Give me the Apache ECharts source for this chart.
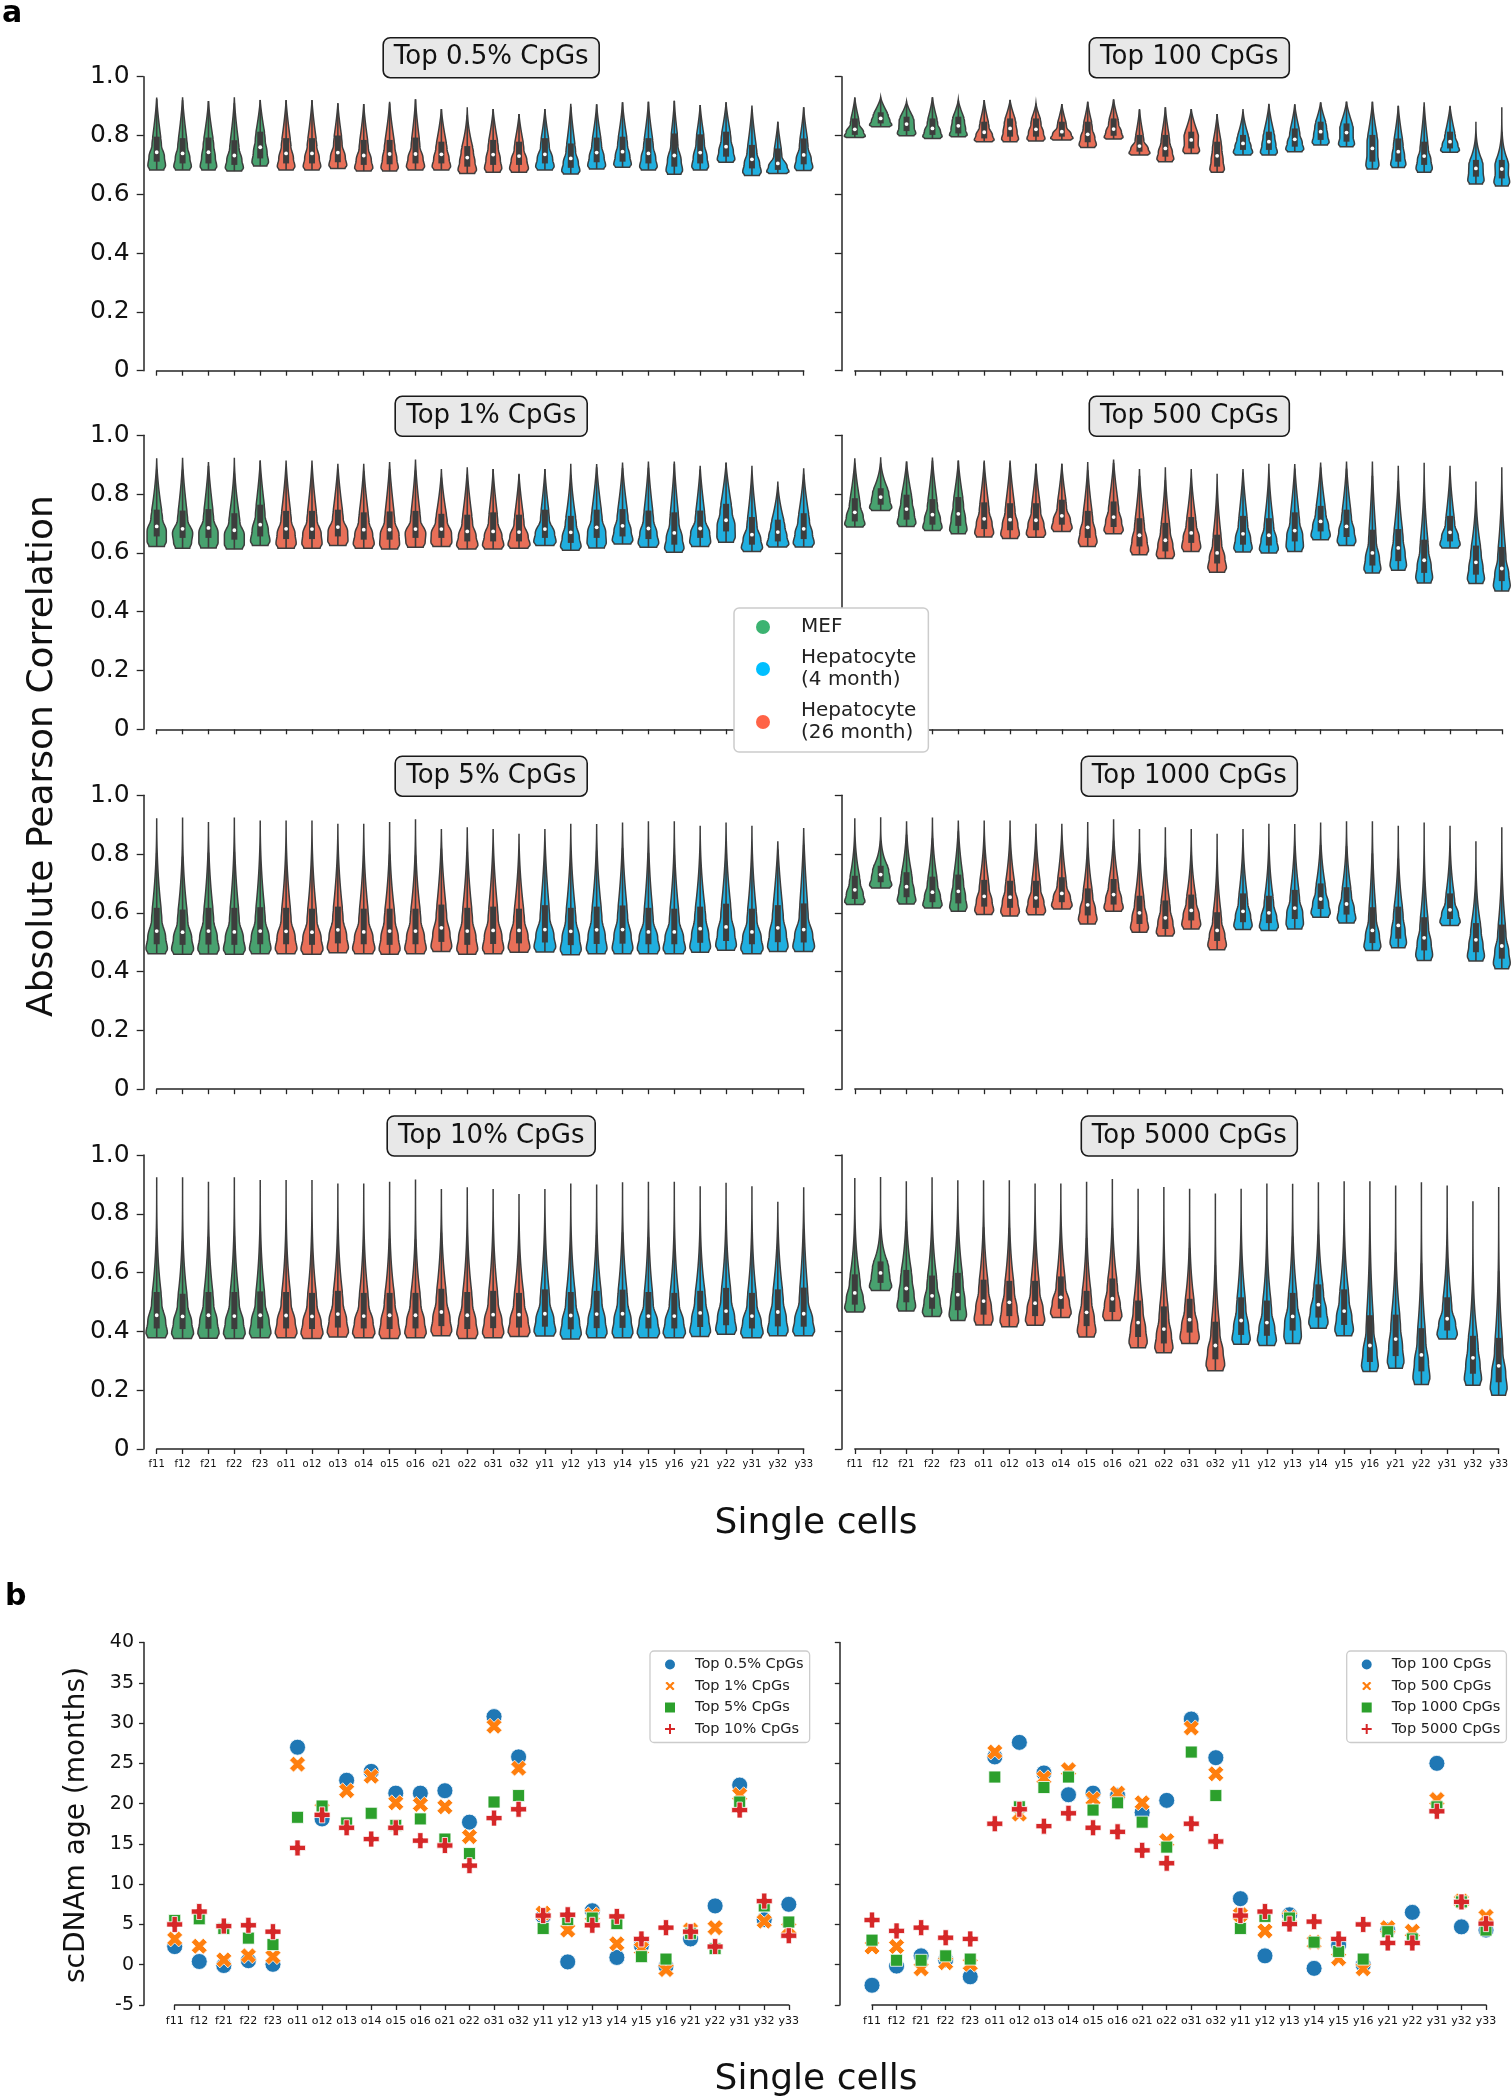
<!DOCTYPE html>
<html><head><meta charset="utf-8">
<script src="https://cdn.jsdelivr.net/npm/echarts@6/dist/echarts.min.js"></script>
<style>html,body{margin:0;padding:0;background:#fff;}#c{width:1511px;height:2099px;}</style>
</head><body><div id="c"></div>
<script>
// ---------------- DATA ----------------
const cells = ['f11','f12','f21','f22','f23','o11','o12','o13','o14','o15','o16','o21','o22','o31','o32','y11','y12','y13','y14','y15','y16','y21','y22','y31','y32','y33'];
const groupNames = ['MEF','Hepatocyte (4 month)','Hepatocyte (26 month)'];
const yTicksA = [0, 0.2, 0.4, 0.6, 0.8, 1.0];
const yTicksB = [-5, 0, 5, 10, 15, 20, 25, 30, 35, 40];

// violin summaries per cell: [min, q1, median, q3, max]
const top0_5pct = [
[0.683,0.711,0.743,0.796,0.929],[0.683,0.705,0.739,0.791,0.930],[0.683,0.705,0.743,0.793,0.917],[0.679,0.700,0.732,0.784,0.930],[0.696,0.722,0.760,0.813,0.921],
[0.683,0.705,0.739,0.791,0.921],[0.683,0.705,0.739,0.791,0.921],[0.688,0.709,0.742,0.800,0.910],[0.679,0.700,0.732,0.785,0.907],[0.679,0.702,0.737,0.785,0.915],
[0.683,0.705,0.737,0.793,0.923],[0.683,0.705,0.736,0.779,0.890],[0.671,0.694,0.725,0.764,0.896],[0.675,0.700,0.735,0.785,0.890],[0.675,0.700,0.730,0.779,0.873],
[0.683,0.705,0.736,0.791,0.890],[0.669,0.690,0.722,0.773,0.908],[0.686,0.709,0.742,0.793,0.906],[0.692,0.711,0.745,0.796,0.913],[0.683,0.705,0.739,0.791,0.915],
[0.668,0.694,0.732,0.807,0.918],[0.683,0.705,0.742,0.804,0.904],[0.709,0.728,0.762,0.813,0.913],[0.664,0.688,0.719,0.768,0.902],[0.671,0.683,0.705,0.756,0.847],
[0.681,0.702,0.734,0.790,0.896]];
const top1pct = [
[0.622,0.656,0.690,0.747,0.922],[0.616,0.651,0.682,0.744,0.924],[0.617,0.651,0.685,0.749,0.909],[0.613,0.645,0.677,0.735,0.924],[0.625,0.656,0.696,0.764,0.914],
[0.616,0.647,0.682,0.743,0.914],[0.616,0.647,0.681,0.743,0.914],[0.625,0.656,0.688,0.747,0.903],[0.616,0.645,0.679,0.738,0.903],[0.613,0.645,0.679,0.741,0.909],
[0.619,0.651,0.681,0.743,0.918],[0.622,0.651,0.681,0.733,0.885],[0.613,0.639,0.673,0.730,0.891],[0.613,0.639,0.673,0.738,0.885],[0.616,0.639,0.671,0.730,0.869],
[0.625,0.651,0.681,0.747,0.885],[0.609,0.634,0.670,0.726,0.903],[0.617,0.651,0.687,0.747,0.902],[0.630,0.656,0.692,0.749,0.907],[0.619,0.647,0.683,0.744,0.911],
[0.602,0.628,0.668,0.738,0.911],[0.622,0.651,0.683,0.744,0.896],[0.636,0.673,0.711,0.767,0.907],[0.605,0.628,0.662,0.722,0.896],[0.620,0.639,0.671,0.713,0.843],
[0.620,0.647,0.682,0.735,0.888]];
const top5pct = [
[0.461,0.493,0.538,0.617,0.922],[0.459,0.491,0.534,0.611,0.924],[0.460,0.492,0.538,0.617,0.909],[0.459,0.491,0.535,0.617,0.924],[0.461,0.493,0.538,0.619,0.914],
[0.461,0.493,0.537,0.617,0.914],[0.459,0.491,0.534,0.614,0.914],[0.464,0.496,0.542,0.621,0.903],[0.461,0.493,0.535,0.614,0.903],[0.459,0.491,0.538,0.614,0.909],
[0.461,0.493,0.538,0.614,0.918],[0.468,0.501,0.549,0.628,0.885],[0.459,0.491,0.538,0.617,0.891],[0.461,0.494,0.540,0.621,0.885],[0.466,0.496,0.540,0.614,0.869],
[0.467,0.499,0.543,0.626,0.885],[0.457,0.490,0.537,0.617,0.903],[0.461,0.494,0.542,0.621,0.902],[0.461,0.495,0.543,0.625,0.907],[0.461,0.493,0.535,0.617,0.911],
[0.461,0.493,0.535,0.614,0.911],[0.466,0.498,0.546,0.621,0.896],[0.473,0.504,0.552,0.631,0.907],[0.461,0.493,0.535,0.614,0.896],[0.468,0.500,0.549,0.626,0.843],
[0.468,0.499,0.543,0.632,0.888]];
const top10pct = [
[0.378,0.410,0.455,0.534,0.924],[0.376,0.408,0.451,0.528,0.924],[0.377,0.409,0.455,0.534,0.909],[0.376,0.408,0.452,0.534,0.924],[0.378,0.410,0.455,0.536,0.915],
[0.378,0.410,0.454,0.534,0.915],[0.376,0.408,0.451,0.531,0.915],[0.381,0.413,0.459,0.538,0.903],[0.378,0.410,0.452,0.531,0.903],[0.376,0.408,0.455,0.531,0.909],
[0.378,0.410,0.455,0.531,0.917],[0.385,0.418,0.466,0.545,0.884],[0.376,0.408,0.455,0.534,0.890],[0.378,0.411,0.457,0.538,0.884],[0.383,0.413,0.457,0.531,0.867],
[0.384,0.416,0.460,0.543,0.884],[0.374,0.407,0.454,0.534,0.903],[0.378,0.411,0.459,0.538,0.900],[0.378,0.412,0.460,0.542,0.907],[0.378,0.410,0.452,0.534,0.909],
[0.378,0.410,0.452,0.531,0.909],[0.383,0.415,0.463,0.538,0.894],[0.390,0.421,0.469,0.548,0.906],[0.378,0.410,0.452,0.531,0.894],[0.385,0.417,0.466,0.543,0.841],
[0.385,0.416,0.460,0.549,0.890]];
const top100 = [
[0.793,0.802,0.821,0.858,0.929],[0.830,0.841,0.858,0.879,0.930],[0.799,0.815,0.839,0.864,0.915],[0.790,0.802,0.824,0.858,0.930],[0.796,0.807,0.833,0.864,0.921],
[0.779,0.790,0.811,0.847,0.921],[0.779,0.796,0.824,0.858,0.921],[0.781,0.796,0.821,0.858,0.909],[0.785,0.796,0.813,0.847,0.907],[0.759,0.777,0.804,0.847,0.915],
[0.788,0.799,0.822,0.858,0.923],[0.734,0.745,0.764,0.802,0.890],[0.711,0.728,0.756,0.802,0.896],[0.739,0.756,0.785,0.813,0.890],[0.675,0.694,0.731,0.779,0.873],
[0.734,0.751,0.773,0.802,0.890],[0.734,0.751,0.779,0.813,0.908],[0.745,0.762,0.787,0.824,0.906],[0.768,0.785,0.813,0.847,0.913],[0.762,0.779,0.810,0.841,0.915],
[0.686,0.711,0.756,0.802,0.915],[0.691,0.711,0.745,0.790,0.901],[0.675,0.700,0.730,0.779,0.913],[0.743,0.756,0.779,0.813,0.901],[0.635,0.660,0.688,0.717,0.847],
[0.628,0.654,0.686,0.717,0.896]];
const top500 = [
[0.688,0.707,0.738,0.786,0.922],[0.744,0.764,0.790,0.820,0.925],[0.690,0.713,0.749,0.798,0.911],[0.676,0.696,0.730,0.783,0.924],[0.665,0.692,0.733,0.790,0.914],
[0.654,0.681,0.716,0.772,0.914],[0.649,0.677,0.713,0.769,0.914],[0.653,0.677,0.711,0.769,0.903],[0.673,0.696,0.726,0.781,0.903],[0.622,0.651,0.687,0.743,0.909],
[0.665,0.688,0.722,0.775,0.918],[0.594,0.622,0.660,0.718,0.885],[0.581,0.605,0.643,0.702,0.891],[0.605,0.634,0.668,0.722,0.885],[0.534,0.564,0.600,0.662,0.869],
[0.603,0.628,0.665,0.726,0.885],[0.600,0.625,0.660,0.718,0.903],[0.605,0.639,0.676,0.738,0.902],[0.645,0.673,0.707,0.760,0.907],[0.625,0.654,0.690,0.747,0.911],
[0.532,0.557,0.600,0.679,0.911],[0.541,0.572,0.617,0.681,0.896],[0.498,0.532,0.575,0.645,0.907],[0.617,0.639,0.670,0.726,0.896],[0.496,0.526,0.568,0.625,0.843],
[0.470,0.504,0.547,0.620,0.891]];
const top1000 = [
[0.628,0.647,0.678,0.726,0.922],[0.684,0.704,0.730,0.760,0.925],[0.630,0.653,0.689,0.738,0.911],[0.616,0.636,0.670,0.723,0.924],[0.605,0.632,0.673,0.730,0.914],
[0.594,0.621,0.656,0.712,0.914],[0.589,0.617,0.653,0.709,0.914],[0.593,0.617,0.651,0.709,0.903],[0.613,0.636,0.666,0.721,0.903],[0.562,0.591,0.627,0.683,0.909],
[0.605,0.628,0.662,0.715,0.918],[0.534,0.562,0.600,0.658,0.885],[0.521,0.545,0.583,0.642,0.891],[0.545,0.574,0.608,0.662,0.885],[0.474,0.504,0.540,0.602,0.869],
[0.543,0.568,0.605,0.666,0.885],[0.540,0.565,0.600,0.658,0.903],[0.545,0.579,0.616,0.678,0.902],[0.585,0.613,0.647,0.700,0.907],[0.565,0.594,0.630,0.687,0.911],
[0.472,0.497,0.540,0.619,0.911],[0.481,0.512,0.557,0.621,0.896],[0.438,0.472,0.515,0.585,0.907],[0.557,0.579,0.610,0.666,0.896],[0.436,0.466,0.508,0.565,0.843],
[0.410,0.444,0.487,0.560,0.891]];
const top5000 = [
[0.466,0.491,0.531,0.594,0.922],[0.539,0.565,0.599,0.638,0.925],[0.469,0.499,0.546,0.609,0.911],[0.451,0.477,0.521,0.590,0.924],[0.437,0.472,0.525,0.599,0.914],
[0.422,0.457,0.503,0.576,0.914],[0.416,0.452,0.499,0.572,0.914],[0.421,0.452,0.496,0.572,0.903],[0.447,0.477,0.516,0.587,0.903],[0.381,0.418,0.465,0.538,0.909],
[0.437,0.466,0.511,0.580,0.918],[0.344,0.381,0.430,0.505,0.885],[0.327,0.359,0.408,0.485,0.891],[0.359,0.396,0.440,0.511,0.885],[0.266,0.305,0.352,0.433,0.869],
[0.356,0.388,0.437,0.516,0.885],[0.352,0.385,0.430,0.505,0.903],[0.359,0.403,0.451,0.531,0.902],[0.411,0.447,0.491,0.560,0.907],[0.385,0.422,0.469,0.543,0.911],
[0.264,0.296,0.352,0.455,0.911],[0.275,0.316,0.374,0.457,0.896],[0.219,0.264,0.320,0.411,0.907],[0.374,0.403,0.443,0.516,0.896],[0.217,0.256,0.310,0.385,0.843],
[0.183,0.227,0.283,0.378,0.891]];

// scDNAm age (months) per cell
const age_top0_5pct = [2.25,0.4,-0.1,0.5,0.05,27.0,18.1,22.9,24.0,21.3,21.3,21.6,17.7,30.8,25.8,6.0,0.35,6.7,0.9,2.4,-0.2,3.2,7.3,22.3,5.6,7.5];
const age_top1pct   = [3.2,2.3,0.6,1.1,1.0,24.9,19.3,21.6,23.4,20.1,19.9,19.6,15.9,29.6,24.4,6.4,4.3,6.2,2.6,2.0,-0.6,4.3,4.6,21.1,5.4,4.5];
const age_top5pct   = [5.5,5.7,4.5,3.3,2.5,18.3,19.7,17.6,18.8,17.3,18.1,15.6,13.8,20.2,21.0,4.5,5.6,5.8,5.1,1.0,0.7,3.9,2.0,20.2,7.3,5.3];
const age_top10pct  = [5.0,6.6,4.8,4.9,4.1,14.5,18.6,17.0,15.6,17.0,15.4,14.8,12.3,18.2,19.3,6.1,6.2,4.9,6.0,3.2,4.6,4.1,2.25,19.2,7.9,3.6];
const age_top100    = [-2.55,-0.17,1.1,0.6,-1.5,25.8,27.6,23.8,21.1,21.3,21.0,18.9,20.4,30.5,25.7,8.2,1.1,6.2,-0.45,2.45,0.0,4.3,6.5,25.0,4.7,4.3];
const age_top500    = [2.2,2.25,-0.5,0.25,0.05,26.4,18.7,23.2,24.2,20.6,21.3,20.1,15.4,29.4,23.7,6.2,4.2,5.9,2.8,0.75,-0.5,4.6,4.15,20.5,7.9,6.0];
const age_top1000   = [3.05,0.55,0.55,1.1,0.7,23.3,19.6,22.0,23.3,19.2,20.1,17.7,14.6,26.4,21.0,4.5,6.0,5.8,2.8,1.65,0.7,4.1,3.2,19.6,7.8,4.3];
const age_top5000   = [5.55,4.2,4.6,3.35,3.2,17.5,19.3,17.2,18.8,17.0,16.5,14.2,12.6,17.5,15.3,6.1,6.6,5.05,5.35,3.2,5.0,2.7,2.7,19.05,7.8,5.1];

// ---------------- STYLE / LAYOUT ----------------
const FONT = 'DejaVu Sans';
const INK = '#262626';
const violinFill = {'MEF':'#48a26f','Hepatocyte (4 month)':'#20afdf','Hepatocyte (26 month)':'#e86f58'};
const legendFill = {'MEF':'#3cb371','Hepatocyte (4 month)':'#00bfff','Hepatocyte (26 month)':'#ff6347'};
function groupOf(c){ return c[0]==='f' ? 'MEF' : (c[0]==='o' ? 'Hepatocyte (26 month)' : 'Hepatocyte (4 month)'); }

const panelsA = [
  {title:'Top 0.5% CpGs', stats:top0_5pct, row:0, col:0},
  {title:'Top 100 CpGs',  stats:top100,    row:0, col:1},
  {title:'Top 1% CpGs',   stats:top1pct,   row:1, col:0},
  {title:'Top 500 CpGs',  stats:top500,    row:1, col:1},
  {title:'Top 5% CpGs',   stats:top5pct,   row:2, col:0},
  {title:'Top 1000 CpGs', stats:top1000,   row:2, col:1},
  {title:'Top 10% CpGs',  stats:top10pct,  row:3, col:0},
  {title:'Top 5000 CpGs', stats:top5000,   row:3, col:1}
];
const rowTop = [76.7, 435.3, 795.2, 1155];
const rowH = 294;
const colLeft = [156.7, 854.8];
const colW = 647;

// density outline from the quartile summary
function violinProfile(s){
  const mn=s[0], q1=s[1], md=s[2], q3=s[3], mx=s[4], e=1e-4;
  const dB = 0.25/Math.max(md-q1,e), dC = 0.25/Math.max(q3-md,e);
  const dA = Math.min(0.25/Math.max(q1-mn,e), 1.2*dB);
  const nodes = [[mn,0.8*dA],[(mn+q1)/2,dA],[(q1+md)/2,dB],[(md+q3)/2,dC],[q3,0.85*dC]];
  const L = Math.max(mx-q3,e), dq = 0.85*dC;
  const p = Math.max(dq*L/0.25-1, 1.3);
  const out=[], N=70;
  for(let i=0;i<=N;i++){
    const v = mn+(mx-mn)*i/N; let d;
    if(v>=q3){ d = dq*Math.pow(Math.max(0,1-(v-q3)/L),p); }
    else{
      let k=0; while(k<nodes.length-2 && v>nodes[k+1][0]) k++;
      const a=nodes[k], b=nodes[k+1];
      const t = (b[0]-a[0])>e ? Math.min(1,Math.max(0,(v-a[0])/(b[0]-a[0]))) : 0;
      const ts = (1-Math.cos(Math.PI*t))/2;
      d = a[1]+(b[1]-a[1])*ts;
    }
    out.push([v,d]);
  }
  return out;
}
function profileMax(s){ return Math.max.apply(null, violinProfile(s).map(p=>p[1])); }

function makeRender(color, pmax){
  return function(params, api){
    const ci = api.value(0);
    const st = [api.value(1),api.value(2),api.value(3),api.value(4),api.value(5)];
    const band = api.size([1,0])[0];
    const prof = violinProfile(st);
    const vmax = Math.max.apply(null, prof.map(p=>p[1]));
    const halfMax = 0.43*band*Math.pow(vmax/pmax, 0.55);
    const k = halfMax/vmax;
    const L=[], R=[];
    const x0 = api.coord([ci, st[0]])[0];
    prof.forEach(function(pv){
      const c = api.coord([ci, pv[0]]);
      L.push([c[0]-pv[1]*k, c[1]]); R.push([c[0]+pv[1]*k, c[1]]);
    });
    const poly = L.concat(R.reverse());
    const iqr = st[3]-st[1];
    const wlo = Math.max(st[0], st[1]-1.5*iqr), whi = Math.min(st[4], st[3]+1.5*iqr);
    const y = v => api.coord([ci, v])[1];
    return {type:'group', children:[
      {type:'polygon', shape:{points:poly}, style:{fill:color, stroke:'#3d3d3d', lineWidth:1.5}},
      {type:'line', shape:{x1:x0,y1:y(wlo),x2:x0,y2:y(whi)}, style:{stroke:'#3d3d3d', lineWidth:1.6}},
      {type:'rect', shape:{x:x0-3, y:y(st[3]), width:6, height:y(st[1])-y(st[3])}, style:{fill:'#3d3d3d'}},
      {type:'circle', shape:{cx:x0, cy:y(st[2]), r:1.9}, style:{fill:'#ffffff'}}
    ]};
  };
}

const grid=[], xAxis=[], yAxis=[], series=[], title=[];
panelsA.forEach(function(P, i){
  const left = colLeft[P.col], top = rowTop[P.row];
  grid.push({left:left, top:top, width:colW, height:rowH});
  xAxis.push({type:'category', gridIndex:i, data:cells, boundaryGap:false,
    axisLine:{show:true, onZero:false, lineStyle:{color:INK, width:1.5}},
    axisTick:{show:true, length:5, lineStyle:{color:INK, width:1.3}},
    axisLabel:{show:P.row===3, interval:0, fontSize:10, margin:10, color:'#111', fontFamily:FONT},
    splitLine:{show:false}});
  yAxis.push({type:'value', gridIndex:i, min:yTicksA[0], max:yTicksA[yTicksA.length-1], interval:0.2, offset:13,
    axisLine:{show:true, lineStyle:{color:INK, width:1.5}},
    axisTick:{show:true, length:7, lineStyle:{color:INK, width:1.3}},
    axisLabel:{show:P.col===0, fontSize:25, margin:14, color:'#111', fontFamily:FONT,
      formatter: v => (v===0 ? '0' : v.toFixed(1))},
    splitLine:{show:false}});
  const cx = left + colW/2;
  title.push({text:P.title, left:cx, top:top-39, textAlign:'center',
    backgroundColor:'#e8e8e8', borderColor:'#1a1a1a', borderWidth:1.6, borderRadius:7,
    padding:[5,11,5,11],
    textStyle:{fontSize:26, fontWeight:'normal', color:'#111', fontFamily:FONT, lineHeight:30}});
  const pmax = Math.max.apply(null, P.stats.map(profileMax));
  groupNames.forEach(function(g){
    const data = [];
    cells.forEach(function(c, ci){ if(groupOf(c)===g){ data.push([ci].concat(P.stats[ci])); } });
    series.push({type:'custom', name:g, xAxisIndex:i, yAxisIndex:i, data:data,
      encode:{x:0, y:[1,5]}, itemStyle:{color:violinFill[g]}, clip:false, silent:true,
      renderItem: makeRender(violinFill[g], pmax)});
  });
});

// panel b
const gridB = [{left:174.7, top:1642.5, width:614.1, height:362.5, off:30.7},
               {left:872,   top:1642.5, width:614,   height:362.5, off:32.2}];
const seriesB = [
  [{name:'Top 0.5% CpGs', d:age_top0_5pct},{name:'Top 1% CpGs', d:age_top1pct},{name:'Top 5% CpGs', d:age_top5pct},{name:'Top 10% CpGs', d:age_top10pct}],
  [{name:'Top 100 CpGs', d:age_top100},{name:'Top 500 CpGs', d:age_top500},{name:'Top 1000 CpGs', d:age_top1000},{name:'Top 5000 CpGs', d:age_top5000}]
];
const X_PATH = 'path://M1.414,-2.828L2.828,-1.414L1.414,0L2.828,1.414L1.414,2.828L0,1.414L-1.414,2.828L-2.828,1.414L-1.414,0L-2.828,-1.414L-1.414,-2.828L0,-1.414Z';
const P_PATH = 'path://M-1,-3L1,-3L1,-1L3,-1L3,1L1,1L1,3L-1,3L-1,1L-3,1L-3,-1L-1,-1Z';
const markStyles = [
  {symbol:'circle', size:16, color:'#1f77b4'},
  {symbol:X_PATH, size:16, color:'#ff7f0e'},
  {symbol:'rect', size:12, color:'#2ca02c'},
  {symbol:P_PATH, size:16, color:'#d62728'}
];
gridB.forEach(function(G, j){
  const gi = grid.length;
  grid.push({left:G.left, top:G.top, width:G.width, height:G.height});
  xAxis.push({type:'category', gridIndex:gi, data:cells, boundaryGap:false,
    axisLine:{show:true, onZero:false, lineStyle:{color:INK, width:1.5}},
    axisTick:{show:true, length:5, lineStyle:{color:INK, width:1.3}},
    axisLabel:{show:true, interval:0, fontSize:11, margin:11, color:'#111', fontFamily:FONT},
    splitLine:{show:false}});
  yAxis.push({type:'value', gridIndex:gi, min:yTicksB[0], max:yTicksB[yTicksB.length-1], interval:5, offset:G.off,
    axisLine:{show:true, lineStyle:{color:INK, width:1.5}},
    axisTick:{show:true, length:5, lineStyle:{color:INK, width:1.3}},
    axisLabel:{show:j===0, fontSize:19, margin:10, color:'#111', fontFamily:FONT},
    splitLine:{show:false}});
  seriesB[j].forEach(function(S, k){
    const m = markStyles[k];
    series.push({type:'scatter', name:S.name, xAxisIndex:gi, yAxisIndex:gi, data:S.d,
      symbol:m.symbol, symbolSize:m.size, silent:true,
      itemStyle:{color:m.color, borderColor:'#ffffff', borderWidth:0.8, opacity:1}, z:3+k});
  });
});

const legendA = {orient:'vertical', left:734, top:608, selectedMode:false,
  data: groupNames.map(g => ({name:g, icon:'circle', itemStyle:{color:legendFill[g], borderWidth:0}})),
  formatter: n => n.replace(' (', '\n('),
  itemWidth:14, itemHeight:14, itemGap:9, padding:[8,12,8,22],
  backgroundColor:'#ffffff', borderColor:'#cccccc', borderWidth:1.5, borderRadius:5, z:20,
  textStyle:{fontSize:20, lineHeight:22, color:'#222', fontFamily:FONT, padding:[0,0,0,26]}};
function legendB(left, names){
  return {orient:'vertical', left:left, top:1651, selectedMode:false, data:names,
    itemWidth:12, itemHeight:12, itemGap:4.5, padding:[5,6,5,13],
    backgroundColor:'#ffffff', borderColor:'#cccccc', borderWidth:1.3, borderRadius:4, z:20,
    textStyle:{fontSize:14.5, lineHeight:17, color:'#222', fontFamily:FONT, padding:[0,0,0,14]}};
}

const graphic = [
  {type:'text', x:2, y:14, style:{text:'a', font:'bold 30px "DejaVu Sans"', fill:'#000', align:'left', verticalAlign:'middle'}},
  {type:'text', x:5, y:1597, style:{text:'b', font:'bold 30px "DejaVu Sans"', fill:'#000', align:'left', verticalAlign:'middle'}},
  {type:'text', x:43, y:756, rotation:Math.PI/2, style:{text:'Absolute Pearson Correlation', font:'36px "DejaVu Sans"', fill:'#111', align:'center', verticalAlign:'middle'}},
  {type:'text', x:816, y:1524, style:{text:'Single cells', font:'36px "DejaVu Sans"', fill:'#111', align:'center', verticalAlign:'middle'}},
  {type:'text', x:77, y:1825, rotation:Math.PI/2, style:{text:'scDNAm age (months)', font:'28px "DejaVu Sans"', fill:'#111', align:'center', verticalAlign:'middle'}},
  {type:'text', x:816, y:2080, style:{text:'Single cells', font:'36px "DejaVu Sans"', fill:'#111', align:'center', verticalAlign:'middle'}}
];

const chart = echarts.init(document.getElementById('c'), null, {renderer:'canvas', width:1511, height:2099});
chart.setOption({
  backgroundColor:'#ffffff',
  animation:false,
  textStyle:{fontFamily:FONT},
  title:title, grid:grid, xAxis:xAxis, yAxis:yAxis, series:series,
  legend:[legendA, legendB(650, seriesB[0].map(s=>s.name)), legendB(1346.7, seriesB[1].map(s=>s.name))],
  graphic:graphic
});
</script></body></html>
